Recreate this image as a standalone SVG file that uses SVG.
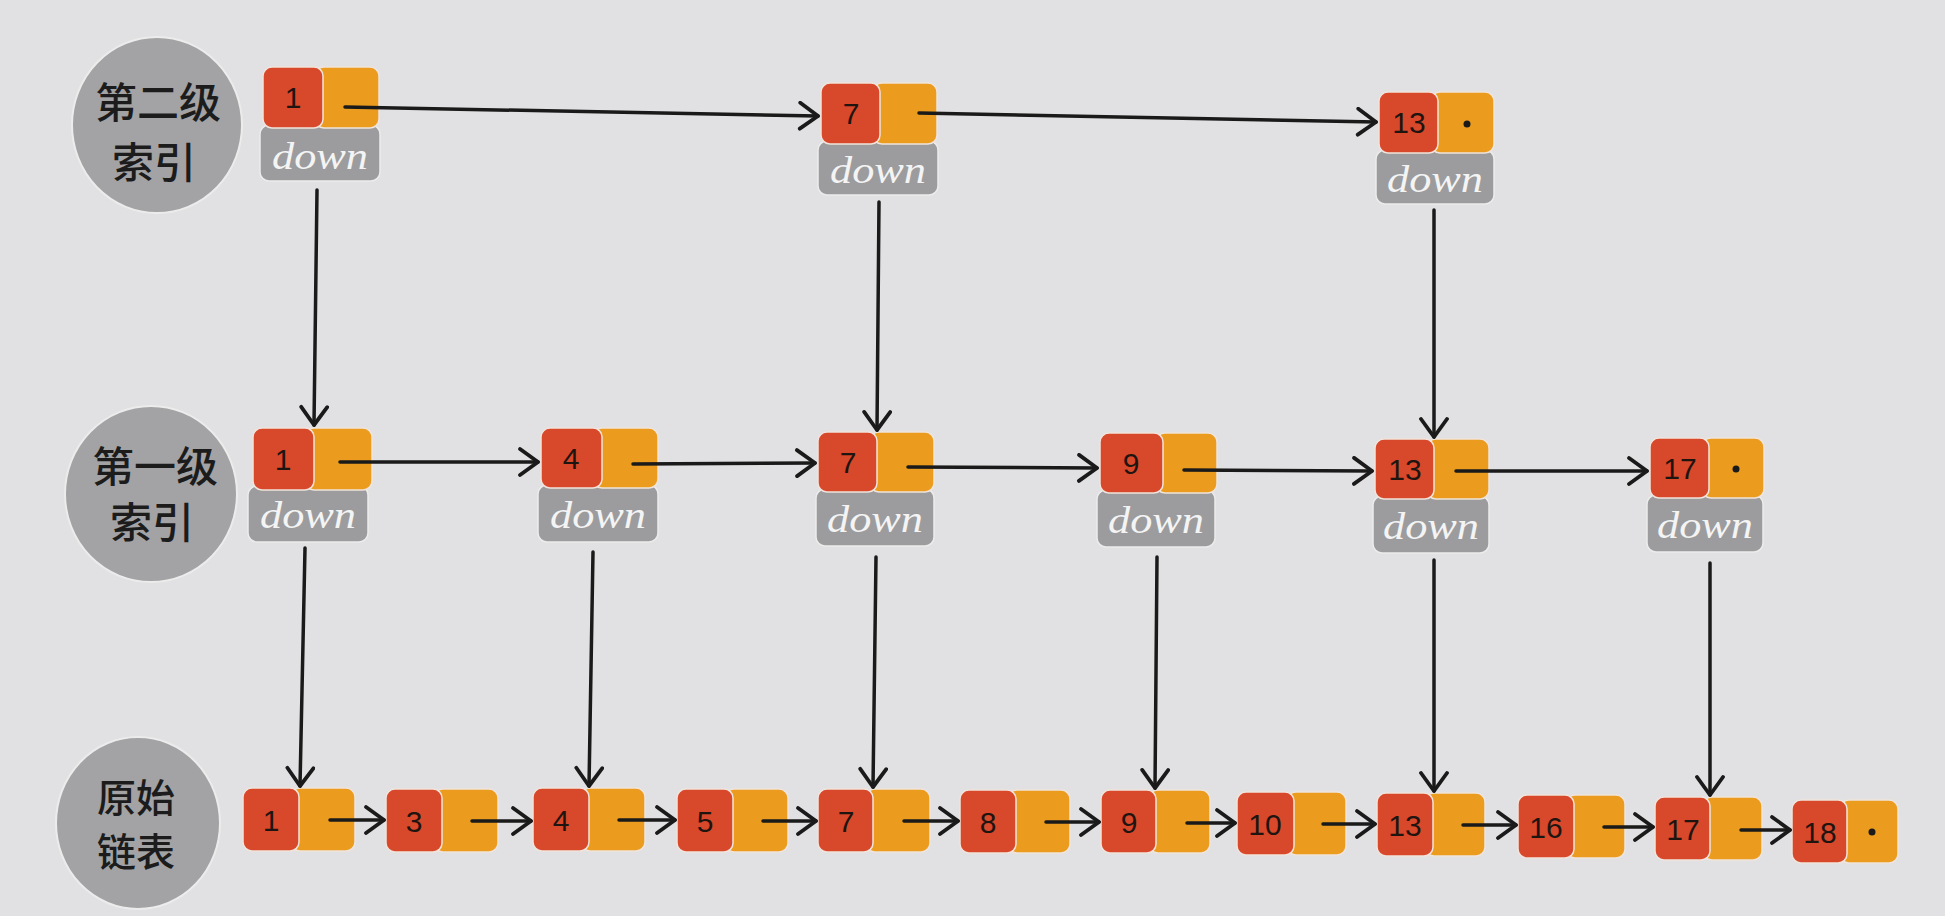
<svg xmlns="http://www.w3.org/2000/svg" width="1945" height="916" viewBox="0 0 1945 916">
<defs>
<style>
.bg{fill:#e1e1e3}
.lbl{fill:#a3a3a5;stroke:#ececec;stroke-width:2}
.lt{font-family:"Noto Sans CJK SC","Noto Sans CJK JP",sans-serif;font-size:42px;font-weight:500;fill:#1c1c1c;text-anchor:middle}
.lt2{font-size:39px}
.r{fill:#d8482b;stroke:#f0e4dc;stroke-width:1.5}
.o{fill:#eb9c1f;stroke:#f0e4dc;stroke-width:1.5}
.d{fill:#9c9c9e;stroke:#ececec;stroke-width:1.5}
.n{font-family:"Liberation Sans",Arial,sans-serif;font-size:30px;fill:#1e1410;text-anchor:middle}
.dw{font-family:"Liberation Serif","Times New Roman",serif;font-style:italic;font-size:38px;fill:#f4f4f4;text-anchor:middle}
.c{fill:none;stroke:#1a1a1a;stroke-width:3.5;stroke-linecap:round}
.dot{fill:#1a1a1a}
</style>
<marker id="ah" viewBox="0 0 24 30" refX="21" refY="15" markerWidth="24" markerHeight="30" markerUnits="userSpaceOnUse" orient="auto">
<path d="M3,2 L21,15 L3,28" fill="none" stroke="#1a1a1a" stroke-width="3.8" stroke-linecap="round" stroke-linejoin="round"/>
</marker>
</defs>
<rect class="bg" x="0" y="0" width="1945" height="916"/>

<g id="label-level2">
<ellipse class="lbl" cx="157" cy="125" rx="85" ry="88"/>
<text class="lt" x="158" y="118">第二级</text>
<text class="lt" x="154" y="178">索引</text>
</g>
<g id="label-level1">
<ellipse class="lbl" cx="151" cy="494" rx="86" ry="88"/>
<text class="lt" x="155" y="482">第一级</text>
<text class="lt" x="152" y="538">索引</text>
</g>
<g id="label-base">
<ellipse class="lbl" cx="138" cy="823" rx="82" ry="86"/>
<text class="lt lt2" x="136" y="812">原始</text>
<text class="lt lt2" x="136" y="866">链表</text>
</g>

<!-- level 2 -->
<g id="l2-1" transform="translate(263,67)">
<rect class="d" x="-3" y="58" width="120" height="56" rx="9"/>
<rect class="o" x="52" y="0" width="64" height="61" rx="9"/>
<rect class="r" x="0" y="0" width="60" height="61" rx="9"/>
<text class="n" x="30" y="41">1</text>
<text class="dw" x="57" y="102" textLength="96" lengthAdjust="spacingAndGlyphs">down</text>
</g>
<g id="l2-7" transform="translate(821,83)">
<rect class="d" x="-3" y="58" width="120" height="54" rx="9"/>
<rect class="o" x="52" y="0" width="64" height="61" rx="9"/>
<rect class="r" x="0" y="0" width="59" height="61" rx="9"/>
<text class="n" x="30" y="41">7</text>
<text class="dw" x="57" y="100" textLength="96" lengthAdjust="spacingAndGlyphs">down</text>
</g>
<g id="l2-13" transform="translate(1379,92)">
<rect class="d" x="-3" y="58" width="118" height="54" rx="9"/>
<rect class="o" x="52" y="0" width="63" height="61" rx="9"/>
<rect class="r" x="0" y="0" width="59" height="61" rx="9"/>
<text class="n" x="30" y="41">13</text>
<circle class="dot" cx="88" cy="32" r="3.5"/>
<text class="dw" x="56" y="100" textLength="96" lengthAdjust="spacingAndGlyphs">down</text>
</g>

<!-- level 1 -->
<g id="l1-1" transform="translate(253,428)">
<rect class="d" x="-5" y="58" width="120" height="56" rx="9"/>
<rect class="o" x="52" y="0" width="67" height="62" rx="9"/>
<rect class="r" x="0" y="0" width="61" height="62" rx="9"/>
<text class="n" x="30" y="42">1</text>
<text class="dw" x="55" y="100" textLength="96" lengthAdjust="spacingAndGlyphs">down</text>
</g>
<g id="l1-4" transform="translate(541,428)">
<rect class="d" x="-3" y="57" width="120" height="57" rx="9"/>
<rect class="o" x="52" y="0" width="65" height="60" rx="9"/>
<rect class="r" x="0" y="0" width="61" height="60" rx="9"/>
<text class="n" x="30" y="41">4</text>
<text class="dw" x="57" y="100" textLength="96" lengthAdjust="spacingAndGlyphs">down</text>
</g>
<g id="l1-7" transform="translate(818,432)">
<rect class="d" x="-2" y="57" width="118" height="57" rx="9"/>
<rect class="o" x="52" y="0" width="64" height="60" rx="9"/>
<rect class="r" x="0" y="0" width="59" height="60" rx="9"/>
<text class="n" x="30" y="41">7</text>
<text class="dw" x="57" y="100" textLength="96" lengthAdjust="spacingAndGlyphs">down</text>
</g>
<g id="l1-9" transform="translate(1100,433)">
<rect class="d" x="-3" y="57" width="118" height="57" rx="9"/>
<rect class="o" x="56" y="0" width="61" height="60" rx="9"/>
<rect class="r" x="0" y="0" width="63" height="60" rx="9"/>
<text class="n" x="31" y="41">9</text>
<text class="dw" x="56" y="100" textLength="96" lengthAdjust="spacingAndGlyphs">down</text>
</g>
<g id="l1-13" transform="translate(1375,439)">
<rect class="d" x="-2" y="57" width="116" height="57" rx="9"/>
<rect class="o" x="52" y="0" width="62" height="60" rx="9"/>
<rect class="r" x="0" y="0" width="59" height="60" rx="9"/>
<text class="n" x="30" y="41">13</text>
<text class="dw" x="56" y="100" textLength="96" lengthAdjust="spacingAndGlyphs">down</text>
</g>
<g id="l1-17" transform="translate(1650,438)">
<rect class="d" x="-3" y="57" width="116" height="57" rx="9"/>
<rect class="o" x="52" y="0" width="62" height="60" rx="9"/>
<rect class="r" x="0" y="0" width="59" height="60" rx="9"/>
<text class="n" x="30" y="41">17</text>
<circle class="dot" cx="86" cy="31" r="3.5"/>
<text class="dw" x="55" y="100" textLength="96" lengthAdjust="spacingAndGlyphs">down</text>
</g>

<!-- base list -->
<g id="b-1" transform="translate(243,788)">
<rect class="o" x="48" y="0" width="64" height="63" rx="9"/>
<rect class="r" x="0" y="0" width="56" height="63" rx="9"/>
<text class="n" x="28" y="43">1</text>
</g>
<g id="b-3" transform="translate(386,789)">
<rect class="o" x="48" y="0" width="64" height="63" rx="9"/>
<rect class="r" x="0" y="0" width="56" height="63" rx="9"/>
<text class="n" x="28" y="43">3</text>
</g>
<g id="b-4" transform="translate(533,788)">
<rect class="o" x="48" y="0" width="64" height="63" rx="9"/>
<rect class="r" x="0" y="0" width="56" height="63" rx="9"/>
<text class="n" x="28" y="43">4</text>
</g>
<g id="b-5" transform="translate(677,789)">
<rect class="o" x="48" y="0" width="63" height="63" rx="9"/>
<rect class="r" x="0" y="0" width="56" height="63" rx="9"/>
<text class="n" x="28" y="43">5</text>
</g>
<g id="b-7" transform="translate(818,789)">
<rect class="o" x="48" y="0" width="64" height="63" rx="9"/>
<rect class="r" x="0" y="0" width="55" height="63" rx="9"/>
<text class="n" x="28" y="43">7</text>
</g>
<g id="b-8" transform="translate(960,790)">
<rect class="o" x="48" y="0" width="62" height="63" rx="9"/>
<rect class="r" x="0" y="0" width="56" height="63" rx="9"/>
<text class="n" x="28" y="43">8</text>
</g>
<g id="b-9" transform="translate(1101,790)">
<rect class="o" x="48" y="0" width="61" height="63" rx="9"/>
<rect class="r" x="0" y="0" width="55" height="63" rx="9"/>
<text class="n" x="28" y="43">9</text>
</g>
<g id="b-10" transform="translate(1237,792)">
<rect class="o" x="50" y="0" width="59" height="63" rx="9"/>
<rect class="r" x="0" y="0" width="57" height="63" rx="9"/>
<text class="n" x="28" y="43">10</text>
</g>
<g id="b-13" transform="translate(1377,793)">
<rect class="o" x="48" y="0" width="60" height="63" rx="9"/>
<rect class="r" x="0" y="0" width="56" height="63" rx="9"/>
<text class="n" x="28" y="43">13</text>
</g>
<g id="b-16" transform="translate(1518,795)">
<rect class="o" x="48" y="0" width="59" height="63" rx="9"/>
<rect class="r" x="0" y="0" width="56" height="63" rx="9"/>
<text class="n" x="28" y="43">16</text>
</g>
<g id="b-17" transform="translate(1655,797)">
<rect class="o" x="48" y="0" width="59" height="63" rx="9"/>
<rect class="r" x="0" y="0" width="55" height="63" rx="9"/>
<text class="n" x="28" y="43">17</text>
</g>
<g id="b-18" transform="translate(1792,800)">
<rect class="o" x="48" y="0" width="58" height="63" rx="9"/>
<rect class="r" x="0" y="0" width="55" height="63" rx="9"/>
<text class="n" x="28" y="43">18</text>
<circle class="dot" cx="80" cy="32" r="3.5"/>
</g>

<g id="connectors">
<!-- level 2 horizontal -->
<line class="c" x1="345" y1="107" x2="818" y2="116" marker-end="url(#ah)"/>
<line class="c" x1="919" y1="113" x2="1376" y2="122" marker-end="url(#ah)"/>
<!-- level 2 down -->
<line class="c" x1="317" y1="190" x2="314" y2="425" marker-end="url(#ah)"/>
<line class="c" x1="879" y1="202" x2="877" y2="430" marker-end="url(#ah)"/>
<line class="c" x1="1434" y1="210" x2="1434" y2="437" marker-end="url(#ah)"/>
<!-- level 1 horizontal -->
<line class="c" x1="340" y1="462" x2="538" y2="462" marker-end="url(#ah)"/>
<line class="c" x1="633" y1="464" x2="815" y2="463" marker-end="url(#ah)"/>
<line class="c" x1="908" y1="467" x2="1097" y2="468" marker-end="url(#ah)"/>
<line class="c" x1="1184" y1="470" x2="1372" y2="471" marker-end="url(#ah)"/>
<line class="c" x1="1456" y1="471" x2="1647" y2="471" marker-end="url(#ah)"/>
<!-- level 1 down -->
<line class="c" x1="305" y1="548" x2="300" y2="786" marker-end="url(#ah)"/>
<line class="c" x1="593" y1="552" x2="589" y2="786" marker-end="url(#ah)"/>
<line class="c" x1="876" y1="557" x2="873" y2="787" marker-end="url(#ah)"/>
<line class="c" x1="1157" y1="557" x2="1155" y2="788" marker-end="url(#ah)"/>
<line class="c" x1="1434" y1="560" x2="1434" y2="791" marker-end="url(#ah)"/>
<line class="c" x1="1710" y1="563" x2="1710" y2="795" marker-end="url(#ah)"/>
<!-- base list -->
<line class="c" x1="330" y1="820" x2="384" y2="820" marker-end="url(#ah)"/>
<line class="c" x1="472" y1="821" x2="531" y2="821" marker-end="url(#ah)"/>
<line class="c" x1="619" y1="820" x2="675" y2="820" marker-end="url(#ah)"/>
<line class="c" x1="763" y1="821" x2="816" y2="821" marker-end="url(#ah)"/>
<line class="c" x1="904" y1="821" x2="958" y2="821" marker-end="url(#ah)"/>
<line class="c" x1="1046" y1="822" x2="1099" y2="822" marker-end="url(#ah)"/>
<line class="c" x1="1187" y1="823" x2="1235" y2="823" marker-end="url(#ah)"/>
<line class="c" x1="1323" y1="824" x2="1375" y2="824" marker-end="url(#ah)"/>
<line class="c" x1="1463" y1="825" x2="1516" y2="825" marker-end="url(#ah)"/>
<line class="c" x1="1604" y1="827" x2="1653" y2="827" marker-end="url(#ah)"/>
<line class="c" x1="1741" y1="830" x2="1790" y2="830" marker-end="url(#ah)"/>
</g>
</svg>
